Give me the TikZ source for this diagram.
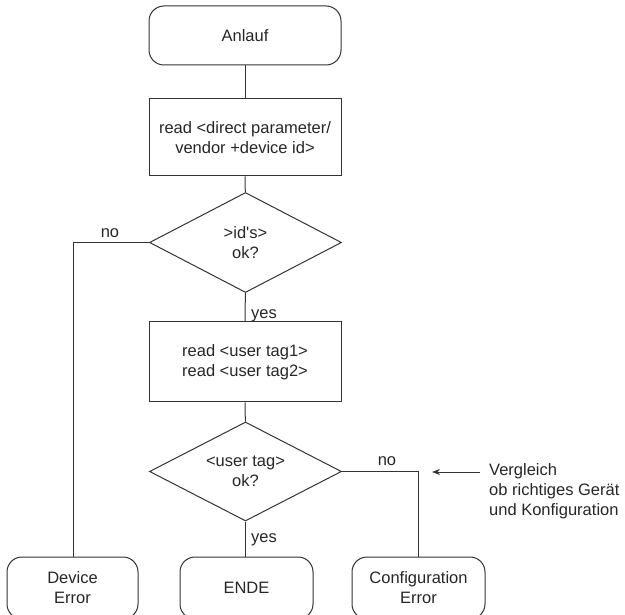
\documentclass[tikz,border=0pt]{standalone}
\usepackage{fontspec}
\setmainfont{Liberation Sans}
\usetikzlibrary{shapes.geometric,arrows.meta}
\begin{document}
\begin{tikzpicture}[x=1pt,y=-1pt,
  every node/.style={font=\fontsize{16.5}{20}\selectfont, text=black!85},
  line/.style={draw=black!80, line width=1pt},
  term/.style={line, rounded corners=15pt, inner sep=0pt, align=center},
  proc/.style={line, inner sep=0pt, align=center},
  decision/.style={line, diamond, inner sep=0pt, align=center, minimum width=192pt, minimum height=100pt, aspect=1.92},
  lbl/.style={inner sep=0pt}
]
\useasboundingbox (0,0) rectangle (625,615);
\clip (0,0) rectangle (625,615);

\node[term, minimum width=192pt, minimum height=59pt] (start) at (245,35.5) {Anlauf};
\node[proc, minimum width=192pt, minimum height=77pt] (read1) at (245,137.5) {read <direct parameter/\\vendor +device id>};
\node[decision] (d1) at (245.5,242.5) {>id\textquotesingle s>\\ok?};
\node[proc, minimum width=192pt, minimum height=80pt] (read2) at (245,362) {read <user tag1>\\read <user tag2>};
\node[decision, minimum height=99pt] (d2) at (245.5,471.5) {<user tag>\\ok?};
\node[term, minimum width=131pt, minimum height=62pt] (deverr) at (72.5,588) {Device\\Error};
\node[term, minimum width=133pt, minimum height=62pt] (ende) at (246.5,588) {ENDE};
\node[term, minimum width=133pt, minimum height=62pt] (conferr) at (418.5,588) {Configuration\\Error};

\coordinate (c1) at (73,242.5);
\coordinate (c2) at (418,471.5);

\draw[line] (start) -- (read1);
\draw[line] (read1) -- (d1);
\draw[line] (d1) -- (read2);
\draw[line] (read2) -- (d2);
\draw[line] (d2.south) -- (d2.south |- ende.north);
\draw[line] (d1.west) -- (c1) -- (c1 |- deverr.north);
\draw[line] (d2.east) -- (c2) -- (c2 |- conferr.north);

\node[lbl] (no1) at (110,233) {no};
\node[lbl] (yes1) at (264,316) {yes};
\node[lbl] (no2) at (387,461) {no};
\node[lbl] (yes2) at (264,540) {yes};

\node[lbl, anchor=west, align=left] (note) at (489,491) {Vergleich\\ob richtiges Gerät\\und Konfiguration};
\coordinate (arrtip) at (432,472);
\draw[draw=black!80, line width=1pt, -{Stealth[length=8pt,width=6pt]}] (480,472) -- (arrtip);
\end{tikzpicture}
\end{document}
